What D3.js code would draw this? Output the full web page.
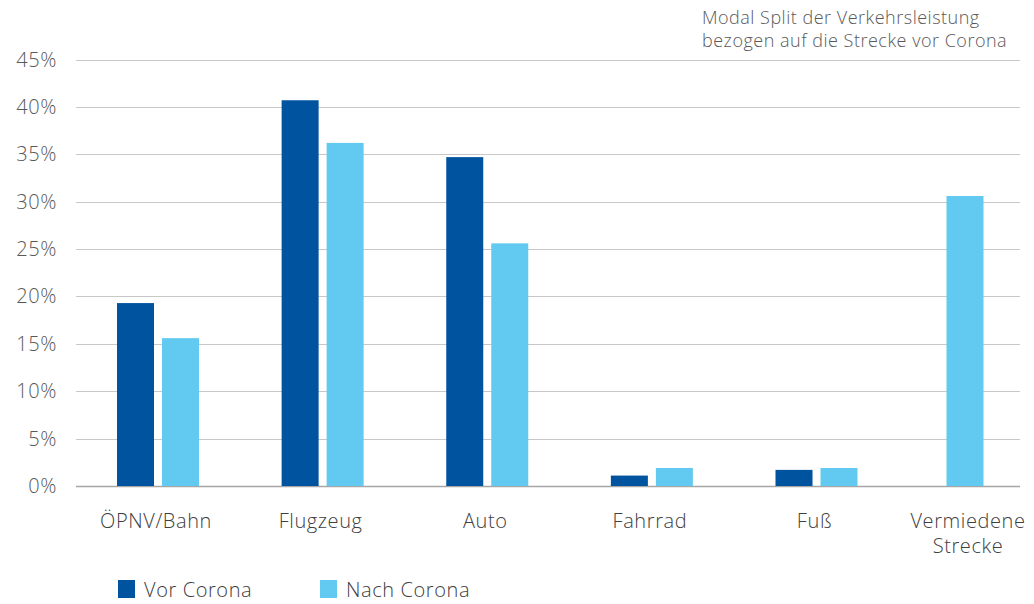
<!DOCTYPE html>
<html>
<head>
<meta charset="utf-8">
<script src="https://cdn.jsdelivr.net/npm/d3@7"></script>
<style>
  html, body { margin: 0; padding: 0; background: #fff; }
  svg { display: block; font-family: "Open Sans", "Lato", sans-serif; font-weight: 300; }
</style>
</head>
<body>
<svg id="chart" width="1034" height="604"></svg>
<script>
// Modal split (share of passenger-km), before and after Corona
const categories = ["ÖPNV/Bahn", "Flugzeug", "Auto", "Fahrrad", "Fuß", "Vermiedene Strecke"];
const vorCorona  = [19.3, 40.7, 34.7, 1.1, 1.7, null];
const nachCorona = [15.6, 36.2, 25.6, 1.9, 1.9, 30.6];
const seriesNames = ["Vor Corona", "Nach Corona"];
const yTicks = [0, 5, 10, 15, 20, 25, 30, 35, 40, 45];
const titleLines = ["Modal Split der Verkehrsleistung", "bezogen auf die Strecke vor Corona"];

const colors = ["#00539f", "#62c9f0"];

const svg = d3.select("#chart");

const plot = { left: 76, right: 1020, top: 59.5, bottom: 486 };

const y = d3.scaleLinear().domain([0, 45]).range([plot.bottom, plot.top]);

// category centres: evenly spaced groups, the last group sits a bit tighter
const xc = d3.scaleLinear()
  .domain([0, categories.length - 2, categories.length - 1])
  .range([158, 816.5, 965]);

const barW = 37, gap = 8;

// gridlines
svg.append("g")
  .selectAll("line")
  .data(yTicks)
  .join("line")
  .attr("x1", plot.left).attr("x2", plot.right)
  .attr("y1", d => Math.round(y(d)) + 0.5)
  .attr("y2", d => Math.round(y(d)) + 0.5)
  .attr("stroke", d => d === 0 ? "#a6a6a6" : "#c8c8c8")
  .attr("stroke-width", d => d === 0 ? 1.5 : 1);

// y tick labels
svg.append("g")
  .selectAll("text")
  .data(yTicks)
  .join("text")
  .attr("x", 57)
  .attr("y", d => y(d) + 7)
  .attr("text-anchor", "end")
  .attr("font-size", 20)
  .attr("letter-spacing", 0.6)
  .attr("fill", "#595959")
  .text(d => d + "%");

// bars
const rows = categories.map((c, i) => ({ c, i, v: [vorCorona[i], nachCorona[i]] }));
const groups = svg.append("g").selectAll("g").data(rows).join("g");

groups.selectAll("rect")
  .data(r => {
    const present = r.v.map((v, s) => ({ v, s })).filter(d => d.v != null);
    return present.map(d => ({ ...d, i: r.i, single: present.length === 1 }));
  })
  .join("rect")
  .attr("x", d => d.single ? xc(d.i) - barW / 2
                           : (d.s === 0 ? xc(d.i) - gap / 2 - barW : xc(d.i) + gap / 2))
  .attr("width", barW)
  .attr("y", d => y(d.v))
  .attr("height", d => y(0) - y(d.v))
  .attr("fill", d => colors[d.s]);

// category labels (the last one wraps onto two lines)
const catLabels = svg.append("g")
  .selectAll("text")
  .data(categories)
  .join("text")
  .attr("text-anchor", "middle")
  .attr("font-size", 20)
  .attr("letter-spacing", 0.6)
  .attr("fill", "#404040")
  .attr("y", 528);

catLabels.each(function (d, i) {
  const words = i === categories.length - 1 ? d.split(" ") : [d];
  d3.select(this).selectAll("tspan")
    .data(words)
    .join("tspan")
    .attr("x", xc(i) + (i === categories.length - 1 ? 3 : -2))
    .attr("dy", (w, k) => k === 0 ? 0 : 25)
    .text(w => w);
});

// legend
const legend = svg.append("g")
  .selectAll("g")
  .data(seriesNames)
  .join("g")
  .attr("transform", (d, i) => `translate(${118 + i * 202}, 580)`);
legend.append("rect").attr("width", 17).attr("height", 18).attr("fill", (d, i) => colors[i]);
legend.append("text")
  .attr("x", 26).attr("y", 17)
  .attr("font-size", 20)
  .attr("letter-spacing", 0.6)
  .attr("fill", "#404040")
  .text(d => d);

// title, top right
svg.append("g")
  .selectAll("text")
  .data(titleLines)
  .join("text")
  .attr("x", 702)
  .attr("y", (d, i) => 24 + i * 23)
  .attr("font-size", 18)
  .attr("letter-spacing", 0.5)
  .attr("fill", "#595959")
  .text(d => d);
</script>
</body>
</html>
